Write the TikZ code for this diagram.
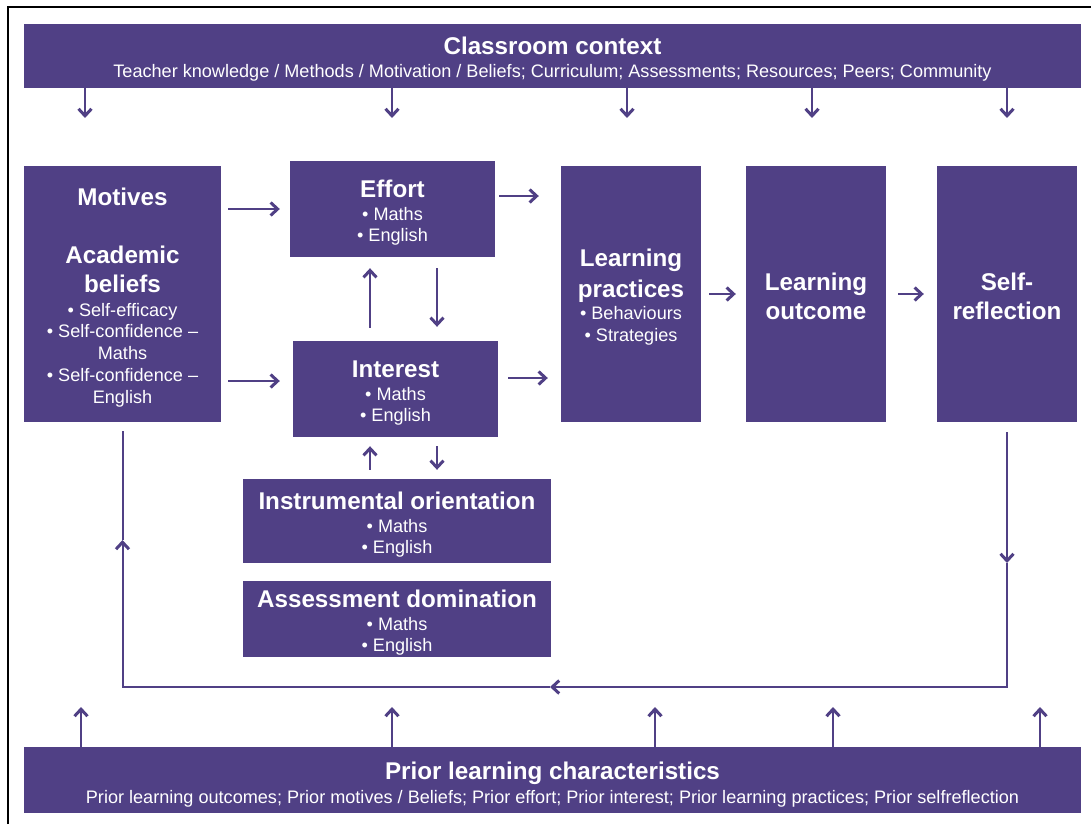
\documentclass[tikz,border=0pt]{standalone}
\usepackage{fontspec}
\setmainfont{Liberation Sans}
\usetikzlibrary{arrows.meta, positioning, calc}

\definecolor{purp}{RGB}{80,64,133}
\newcommand{\boxhead}[1]{{\fontsize{24.2}{29}\selectfont\bfseries #1}}
% taller first line, pushes the text block a little lower in its box
\newcommand{\topgap}[1][24pt]{\rule{0pt}{#1}}

\begin{document}
\begin{tikzpicture}[x=1pt, y=-1pt,
    box/.style={fill=purp, text=white, inner sep=0pt, align=center,
        font=\fontsize{18.1}{21.7}\selectfont},
    arr/.style={draw=purp, line width=2.5pt,
        -{Straight Barb[length=7pt,width=13pt,line width=3pt]}},
    fb/.style={draw=purp, line width=2pt},
    fbarr/.style={fb, -{Straight Barb[length=7pt,width=13pt,line width=3pt]}}]

    \useasboundingbox (0,0) rectangle (1091,824);
    \draw[line width=2pt] (7.5,824) -- (7.5,7.5) -- (1091,7.5);

    % top and bottom bands
    \node[box, minimum width=1057pt, minimum height=64pt] (Ctx) at (552.5,56)
        {\topgap\boxhead{Classroom context}\\[2pt]
         Teacher knowledge / Methods / Motivation / Beliefs; Curriculum; Assessments; Resources; Peers; Community};
    \node[box, minimum width=1057pt, minimum height=66pt] (Prior) at (552.5,780)
        {\topgap[27pt]\boxhead{Prior learning characteristics}\\[2pt]
         Prior learning outcomes; Prior motives / Beliefs; Prior effort; Prior interest; Prior learning practices; Prior selfreflection};

    % main row
    \node[box, minimum width=197pt, minimum height=256pt] (Mot) at (122.5,294)
        {\topgap\boxhead{Motives}\\[37pt]
         \boxhead{Academic}\\[7pt]
         \boxhead{beliefs}\\[2pt]
         • Self-efficacy\\
         • Self-confidence --\\
         Maths\\
         • Self-confidence --\\
         English};
    \node[box, minimum width=205pt, minimum height=96pt] (Eff) at (392.5,209)
        {\topgap[25pt]\boxhead{Effort}\\[1pt] • Maths\\ • English};
    \node[box, minimum width=205pt, minimum height=96pt] (Int) at (395.5,389)
        {\topgap[25pt]\boxhead{Interest}\\[1pt] • Maths\\ • English};
    \node[box, minimum width=140pt, minimum height=256pt] (Lp) at (631,294)
        {\topgap\boxhead{Learning}\\[7pt] \boxhead{practices}\\[1pt] • Behaviours\\ • Strategies};
    \node[box, minimum width=140pt, minimum height=256pt] (Lo) at (816,294)
        {\topgap[22pt]\boxhead{Learning}\\[7pt] \boxhead{outcome}};
    \node[box, minimum width=140pt, minimum height=256pt] (Sr) at (1007,294)
        {\topgap[22pt]\boxhead{Self-}\\[7pt] \boxhead{reflection}};

    % lower boxes
    \node[box, minimum width=308pt, minimum height=84pt] (Ins) at (397,521)
        {\topgap[25pt]\boxhead{Instrumental orientation}\\[1pt] • Maths\\ • English};
    \node[box, minimum width=308pt, minimum height=76pt] (Ass) at (397,619)
        {\topgap[25pt]\boxhead{Assessment domination}\\[1pt] • Maths\\ • English};

    % arrows from the bands
    \foreach \x [count=\i] in {85,392,627,812,1007} {
        \coordinate (c\i) at (\x,118);
        \draw[arr] (Ctx.south -| c\i) -- (c\i);
    }
    \foreach \x [count=\i] in {81,392,655,833,1040} {
        \coordinate (p\i) at (\x,707);
        \draw[arr] (Prior.north -| p\i) -- (p\i);
    }

    % arrows between boxes
    \coordinate (mi) at (0,381);
    \draw[arr, shorten <=7pt, shorten >=10pt] (Mot.east |- Eff.west) -- (Eff.west);
    \draw[arr, shorten <=7pt, shorten >=13pt] (Mot.east |- mi) -- (Int.west |- mi);
    \draw[arr, shorten <=4pt, shorten >=22pt] ([yshift=13pt]Eff.east) -- ([yshift=13pt]Eff.east -| Lp.west);
    \draw[arr, shorten <=10pt, shorten >=13pt] ([yshift=11pt]Int.east) -- ([yshift=11pt]Int.east -| Lp.west);
    \draw[arr, shorten <=8pt, shorten >=10pt] (Lp.east) -- (Lo.west);
    \draw[arr, shorten <=12pt, shorten >=13pt] (Lo.east) -- (Sr.west);

    \coordinate (xu) at (370,0);
    \coordinate (xd) at (437,0);
    \draw[arr, shorten <=13pt, shorten >=11pt] (Int.north -| xu) -- (Eff.south -| xu);
    \draw[arr, shorten <=11pt, shorten >=14pt] (Eff.south -| xd) -- (Int.north -| xd);
    \draw[arr, shorten <=9pt, shorten >=9pt] (Ins.north -| xu) -- (Int.south -| xu);
    \draw[arr, shorten <=9pt, shorten >=9pt] (Int.south -| xd) -- (Ins.north -| xd);

    % feedback loop
    \coordinate (fb) at (0,687);
    \coordinate (yc) at (0,540);
    \coordinate (ya) at (0,563);
    \coordinate (fbR) at (Sr.south |- fb);
    \coordinate (fbL) at (Mot.south |- fb);
    \coordinate (fbA) at (Sr.south |- ya);
    \coordinate (fbB) at (550,687);
    \coordinate (fbC) at (Mot.south |- yc);
    \draw[fbarr, shorten <=10pt] (Sr.south) -- (fbA);
    \draw[fbarr] (fbA) -- (fbR) -- (fbB);
    \draw[fbarr] (fbB) -- (fbL) -- (fbC);
    \draw[fb, shorten >=9pt] (fbC) -- (Mot.south);
\end{tikzpicture}
\end{document}
